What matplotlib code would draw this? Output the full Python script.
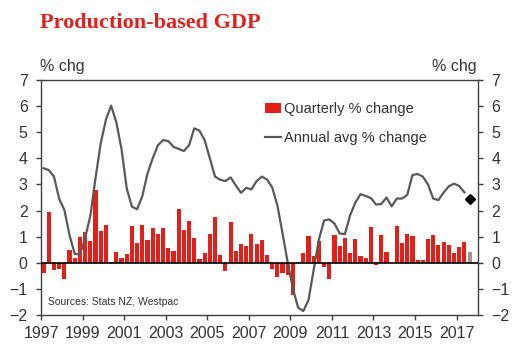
import matplotlib
matplotlib.use("Agg")
import matplotlib.pyplot as plt
import numpy as np

# Quarterly data starting 1997 Q1
start_year = 1997
quarterly = [-0.41, 1.95, -0.26, -0.22, -0.61, 0.48, 0.17, 0.99, 1.17, 0.83,
             2.77, 1.22, 1.45, 0.03, 0.41, 0.17, 0.34, 1.40, 0.75, 1.46,
             0.87, 1.33, 1.09, 1.34, 0.56, 0.47, 2.06, 1.25, 1.61, 0.95,
             0.13, 0.39, 1.09, 1.75, 0.28, -0.30, 1.57, 0.47, 0.73, 0.65,
             1.09, 0.72, 0.87, 0.28, -0.23, -0.54, -0.38, -0.48, -1.22, 0.02,
             0.38, 1.03, 0.25, 0.84, -0.15, -0.61, 1.05, 0.64, 0.93, 0.36,
             0.91, 0.27, 0.18, 1.38, -0.09, 1.06, 0.41, 0.0, 1.42, 0.75,
             1.10, 1.04, 0.10, 0.10, 0.90, 1.06, 0.68, 0.79, 0.68, 0.38,
             0.60, 0.79]
forecast_q = 0.41          # next quarter (grey bar)

annual_avg = [3.62, 3.55, 3.30, 2.45, 2.02, 1.05, 0.34, 0.32, 0.95, 1.80,
              3.25, 4.58, 5.48, 6.02, 5.38, 4.35, 2.85, 2.15, 2.05, 2.55,
              3.42, 4.00, 4.50, 4.70, 4.66, 4.44, 4.36, 4.28, 4.50, 5.15,
              5.06, 4.70, 4.00, 3.30, 3.18, 3.13, 3.27, 2.96, 2.68, 2.87,
              2.81, 3.13, 3.30, 3.19, 2.89, 2.20, 1.12, 0.00, -1.00, -1.72,
              -1.85, -1.42, -0.25, 0.90, 1.62, 1.66, 1.50, 1.12, 1.10, 1.82,
              2.30, 2.63, 2.56, 2.48, 2.23, 2.25, 2.50, 2.16, 2.46, 2.46,
              2.60, 3.36, 3.40, 3.30, 3.00, 2.46, 2.40, 2.69, 2.93, 3.03,
              2.94, 2.70]
forecast_annual = 2.44     # diamond

year_ticks = list(range(1997, 2018, 2))

x_q = start_year + (np.arange(len(quarterly)) + 0.5) / 4
x_f = start_year + (len(quarterly) + 0.5) / 4

fig = plt.figure(figsize=(5.28, 3.63), dpi=100)
ax = fig.add_axes([41 / 528, 1 - 315 / 363, 437 / 528, 235 / 363])

red = "#E41F1A"
bars = ax.bar(x_q, quarterly, width=0.2, color=red, zorder=2)
ax.bar([x_f], [forecast_q], width=0.2, color="#A3968C", zorder=2)
line, = ax.plot(x_q, annual_avg, color="#595959", lw=1.6, zorder=3)
ax.plot([x_f], [forecast_annual], marker="D", color="black", ms=5, ls="none", zorder=4)

ax.axhline(0, color="black", lw=1.2, zorder=3)

ax.set_xlim(1997, 2018.03)
ax.set_ylim(-2, 7)
ax.set_yticks(range(-2, 8))
ax.set_xticks(year_ticks)
ax.set_xticklabels([str(y) for y in year_ticks])

txt = "#333333"
for s in ax.spines.values():
    s.set_color("#404040")
    s.set_linewidth(1.0)
ax.tick_params(axis="y", left=True, right=True, labelleft=True, labelright=True,
               direction="out", length=3.6, width=1.0, color="#404040",
               pad=6, labelsize=11.5, labelcolor=txt)
ax.tick_params(axis="x", direction="out", length=3.6, width=1.0, color="#404040",
               pad=4, labelsize=11.5, labelcolor=txt)
for lab in ax.get_xticklabels() + ax.yaxis.get_ticklabels(which="both"):
    lab.set_family("Liberation Sans")
for tk in ax.yaxis.get_major_ticks():
    tk.label2.set_family("Liberation Sans")

leg = ax.legend([bars, line], ["Quarterly % change", "Annual avg % change"],
                loc="upper left", bbox_to_anchor=(0.5, 0.93), frameon=False,
                prop={"family": "Liberation Sans", "size": 10.5},
                handlelength=1.1, handletextpad=0.15, labelspacing=1.0,
                borderaxespad=0)
for t in leg.get_texts():
    t.set_color(txt)

ax.text(0.017, 0.055, "Sources: Stats NZ, Westpac", transform=ax.transAxes,
        fontsize=7.5, family="Liberation Sans", color=txt, va="center")

fig.text(40 / 528, 1 - 23 / 363, "Production-based GDP", fontsize=16,
         family="Liberation Serif", weight="bold", color="#E2211C", va="center")
fig.text(40 / 528, 1 - 67 / 363, "% chg", fontsize=11.5, family="Liberation Sans",
         color=txt, va="center")
fig.text(477 / 528, 1 - 67 / 363, "% chg", fontsize=11.5, family="Liberation Sans",
         color=txt, va="center", ha="right")

fig.savefig("out.png", dpi=100)
